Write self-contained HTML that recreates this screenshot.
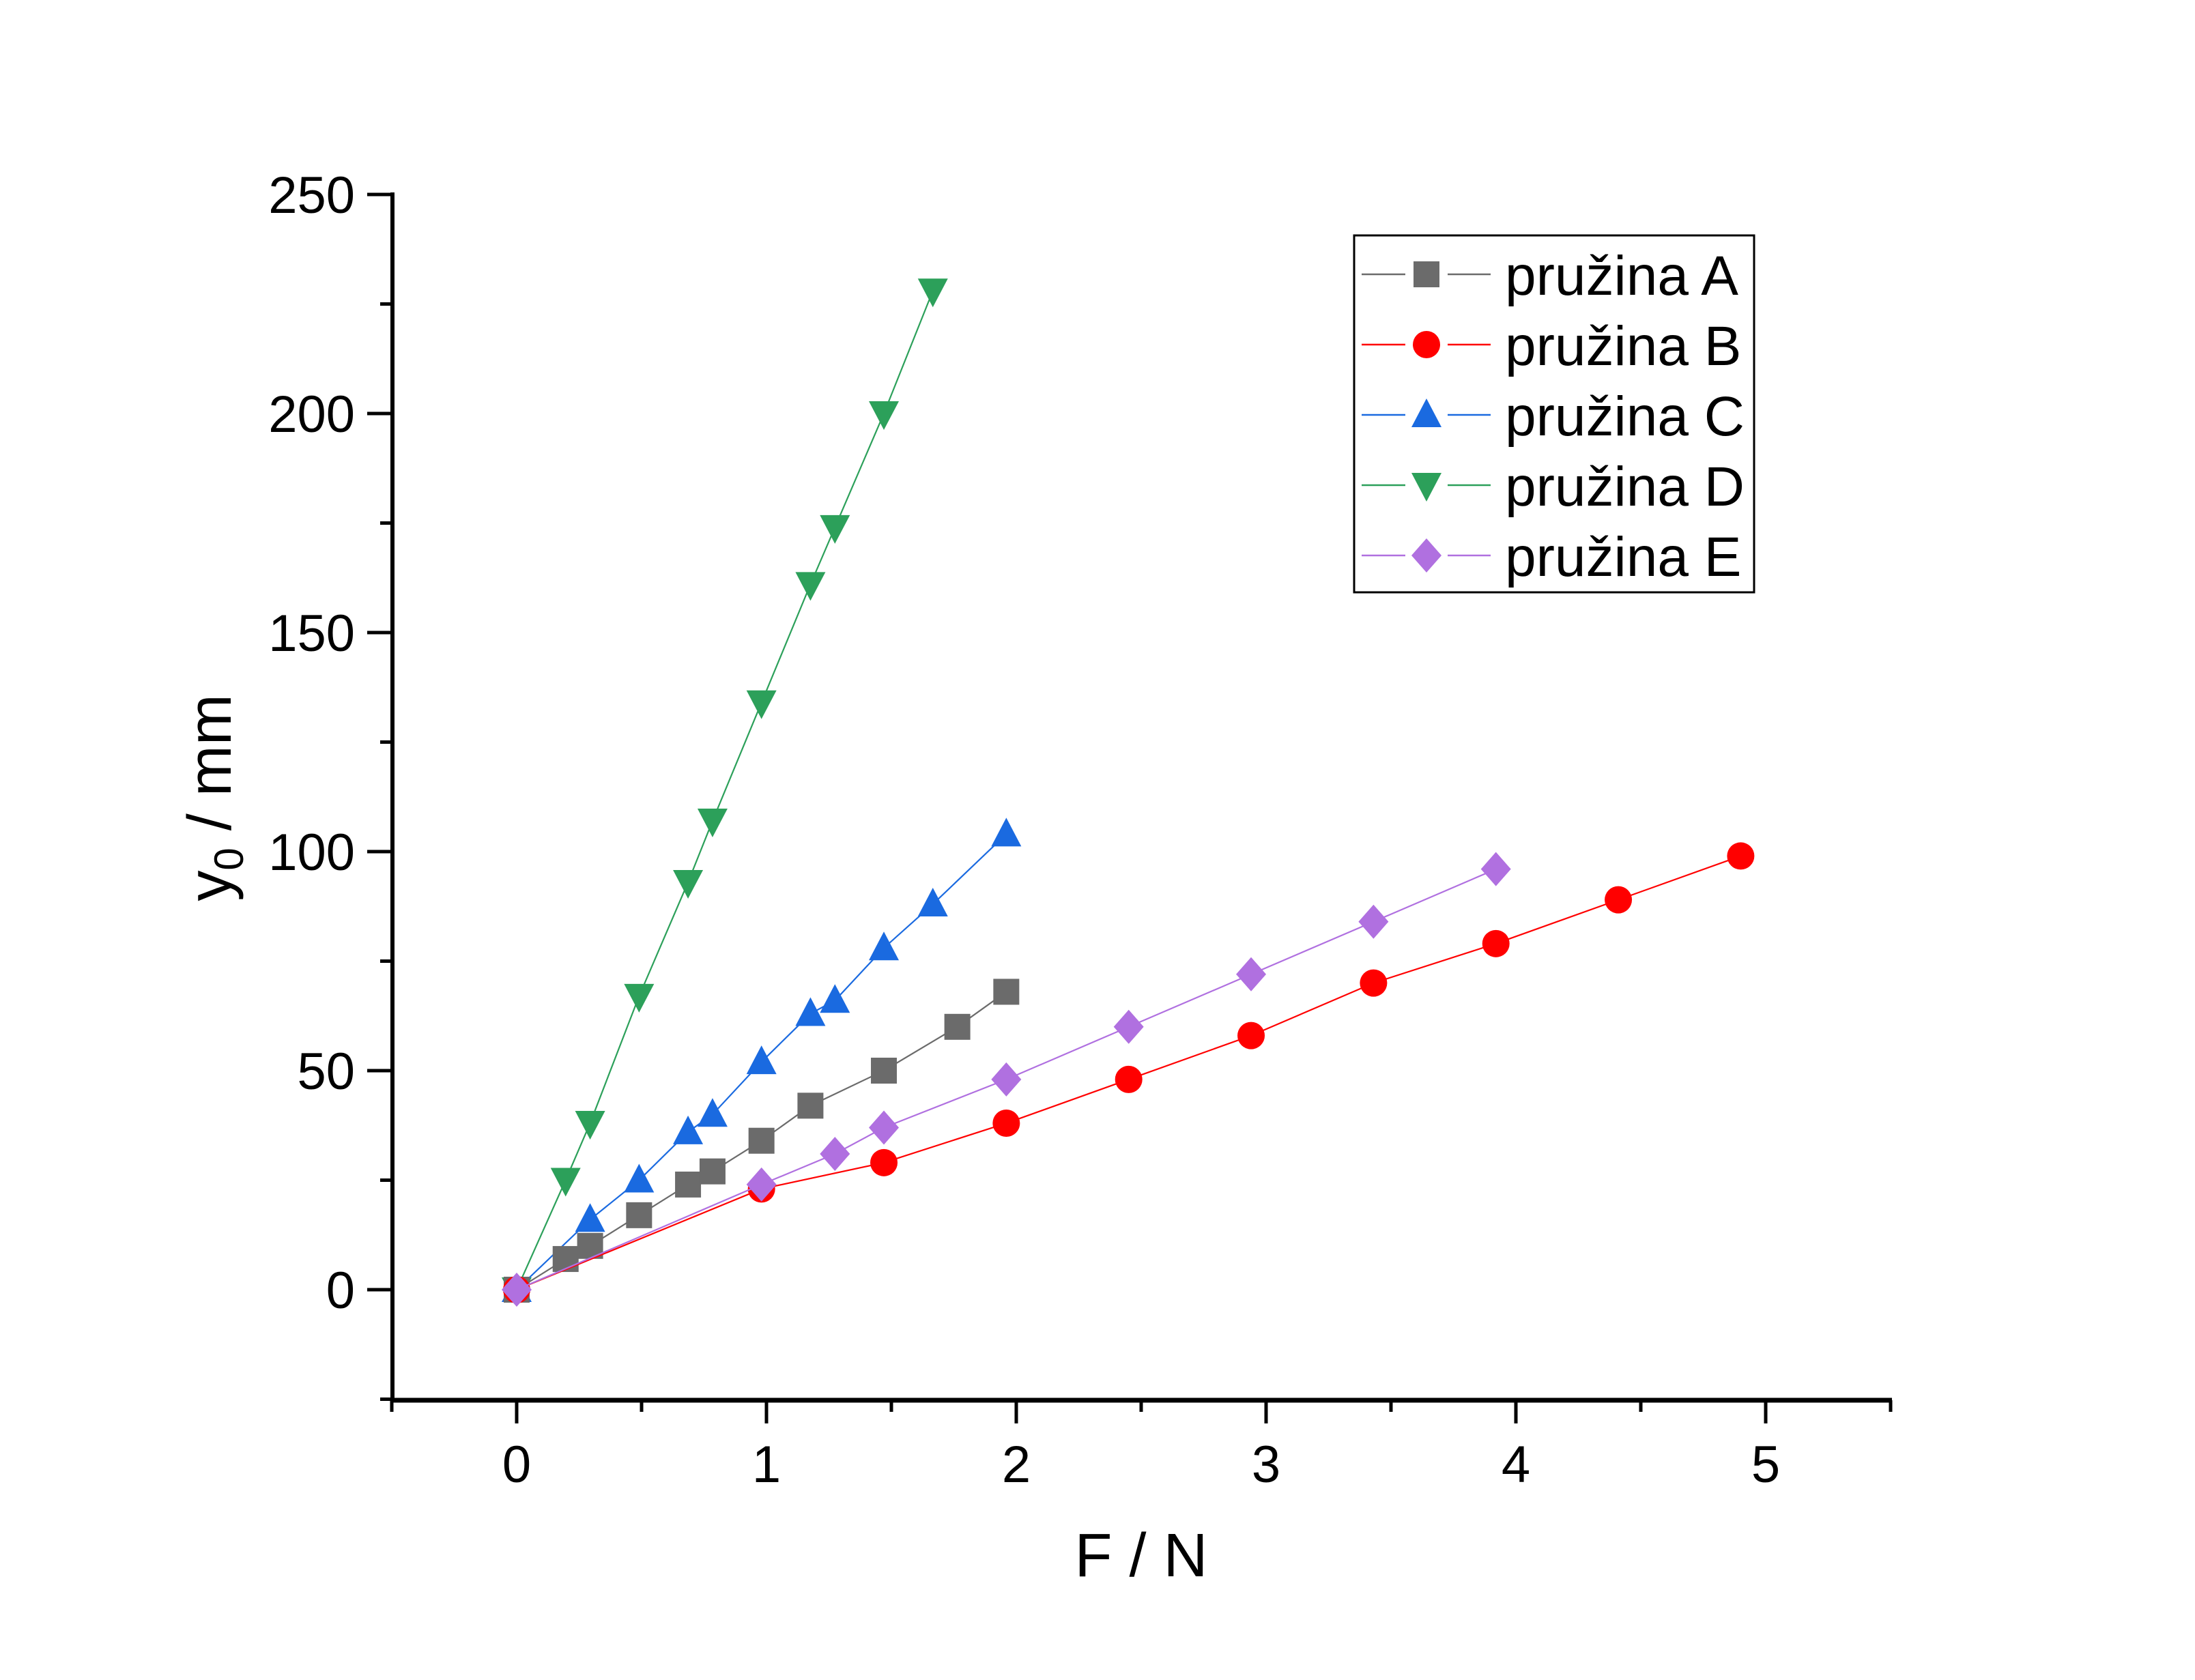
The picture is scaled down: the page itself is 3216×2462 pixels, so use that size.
<!DOCTYPE html>
<html><head><meta charset="utf-8"><style>
html,body{margin:0;padding:0;background:#fff;}
svg{display:block;font-family:"Liberation Sans",Arial,sans-serif;}
</style></head><body>
<svg id="chart" width="3216" height="2462" viewBox="0 0 3216 2462" xmlns="http://www.w3.org/2000/svg">
<rect width="3216" height="2462" fill="#fff"/>
<g id="series"></g>
<g id="axes"></g>
<g id="legend"></g>
</svg>
<script>
const xTicks = [0,1,2,3,4,5];
const yTicks = [0,50,100,150,200,250];
const seriesNames = ["pružina A","pružina B","pružina C","pružina D","pružina E"];
const seriesColors = ["#6b6b6b","#ff0000","#1a6ae0","#2ca05a","#b070e0"];
const seriesMarkers = ["square","circle","up","down","diamond"];
const xA = [0,0.196,0.294,0.49,0.686,0.784,0.98,1.176,1.47,1.764,1.96];
const yA = [0,7,10,17,24,27,34,42,50,60,68];
const xB = [0,0.98,1.47,1.96,2.45,2.94,3.43,3.92,4.41,4.9];
const yB = [0,23,29,38,48,58,70,79,89,99];
const xC = [0,0.294,0.49,0.686,0.784,0.98,1.176,1.274,1.47,1.666,1.96];
const yC = [0,16,25,36,40,52,63,66,78,88,104];
const xD = [0,0.196,0.294,0.49,0.686,0.784,0.98,1.176,1.274,1.47,1.666];
const yD = [0,25,38,67,93,107,134,161,174,200,228];
const xE = [0,0.98,1.274,1.47,1.96,2.45,2.94,3.43,3.92];
const yE = [0,24,31,37,48,60,72,84,96];

const NS="http://www.w3.org/2000/svg";
const X0=757, XU=366, Y0=1890, YU=6.42;
const sx=v=>X0+v*XU, sy=v=>Y0-v*YU;
function mk(tag,attrs,parent){const e=document.createElementNS(NS,tag);for(const k in attrs)e.setAttribute(k,attrs[k]);parent.appendChild(e);return e;}
function marker(type,cx,cy,col,parent){
  let e;
  if(type==="square") e=mk("rect",{x:cx-19,y:cy-19,width:38,height:38,fill:col},parent);
  else if(type==="circle") e=mk("circle",{cx:cx,cy:cy,r:20,fill:col},parent);
  else if(type==="up") e=mk("polygon",{points:`${cx},${cy-24} ${cx+22},${cy+18} ${cx-22},${cy+18}`,fill:col},parent);
  else if(type==="down") e=mk("polygon",{points:`${cx},${cy+24} ${cx+22},${cy-18} ${cx-22},${cy-18}`,fill:col},parent);
  else e=mk("polygon",{points:`${cx},${cy-25} ${cx+22},${cy} ${cx},${cy+25} ${cx-22},${cy}`,fill:col},parent);
  return e;
}
const xs=[xA,xB,xC,xD,xE], ys=[yA,yB,yC,yD,yE];
const sg=document.getElementById("series");
[3,2,0,1,4].forEach(i=>{
  const g=mk("g",{},sg);
  
  
  const pts=xs[i].map((x,j)=>sx(x)+","+sy(ys[i][j])).join(" ");
  const l=mk("polyline",{points:pts,fill:"none",stroke:seriesColors[i],"stroke-width":2.2},g);
  
  
  xs[i].forEach((x,j)=>{
    const m=marker(seriesMarkers[i],sx(x),sy(ys[i][j]),seriesColors[i],g);
    
    
  });
});
// axes
const ag=document.getElementById("axes");
const xl=mk("line",{x1:572,y1:2052,x2:2772,y2:2052,stroke:"#000","stroke-width":7},ag);


const yl=mk("line",{x1:575,y1:282,x2:575,y2:2055,stroke:"#000","stroke-width":6},ag);


for(let v=-0.5;v<=5.51;v+=0.5){
  const major=Math.abs(v-Math.round(v))<1e-6;
  mk("line",{x1:sx(v),y1:2052,x2:sx(v),y2:major?2086:2069,stroke:"#000","stroke-width":5},ag);
}
xTicks.forEach(v=>{
  const t=mk("text",{x:sx(v),y:2172,"font-size":76,"text-anchor":"middle"},ag);
  t.textContent=v;
  
  
});
for(let v=-25;v<=250;v+=25){
  const major=v%50===0;
  mk("line",{x1:575,y1:sy(v),x2:major?538:557,y2:sy(v),stroke:"#000","stroke-width":5},ag);
}
yTicks.forEach(v=>{
  const t=mk("text",{x:520,y:sy(v)+27,"font-size":76,"text-anchor":"end"},ag);
  t.textContent=v;
  
  
});
const xt=mk("text",{x:1672,y:2310,"font-size":90,"text-anchor":"middle"},ag);
xt.textContent="F / N";


const yt=mk("text",{x:0,y:0,"font-size":90,"text-anchor":"middle",transform:"translate(338,1169) rotate(-90)"},ag);
yt.innerHTML='y<tspan font-size="60" dy="18">0</tspan><tspan dy="-18"> / mm</tspan>';


// legend
const lg=document.getElementById("legend");


mk("rect",{x:1984,y:345,width:586,height:523,fill:"#fff",stroke:"#000","stroke-width":3},lg);
seriesNames.forEach((n,i)=>{
  const cy=402+i*103;
  const g=mk("g",{},lg);
  
  
  mk("line",{x1:1995,y1:cy,x2:2059,y2:cy,stroke:seriesColors[i],"stroke-width":2.5},g);
  mk("line",{x1:2121,y1:cy,x2:2184,y2:cy,stroke:seriesColors[i],"stroke-width":2.5},g);
  marker(seriesMarkers[i],2090,cy,seriesColors[i],g);
  const t=mk("text",{x:2205,y:cy+30,"font-size":82},g);
  t.textContent=n;
});
</script>
</body></html>
